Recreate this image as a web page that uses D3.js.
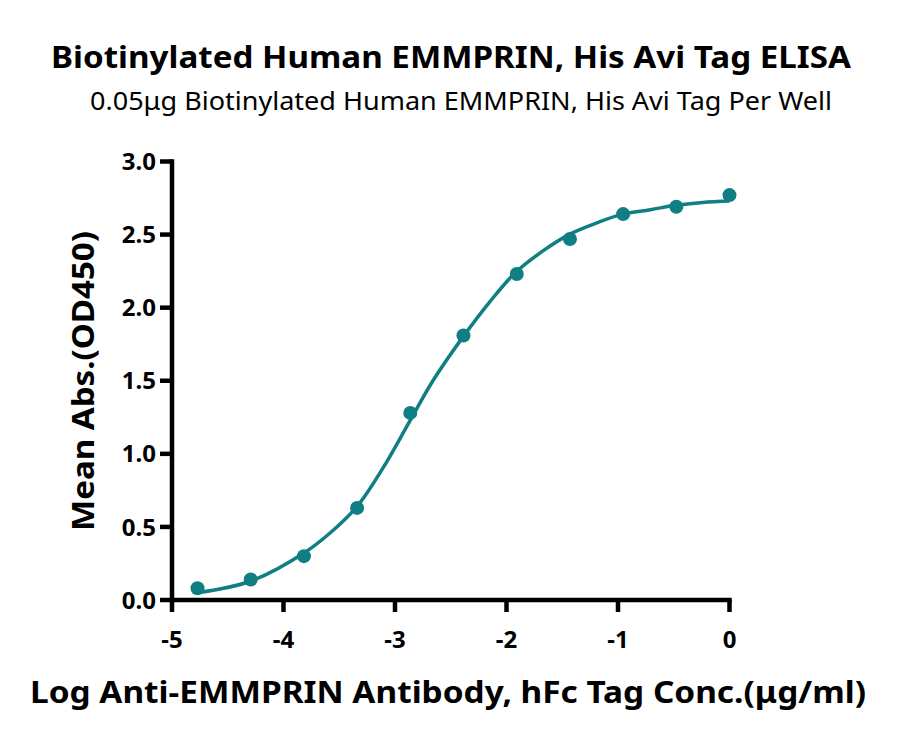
<!doctype html>
<html>
<head>
<meta charset="UTF-8">
<title>EMMPRIN ELISA</title>
<script src="https://d3js.org/d3.v7.min.js"></script>
<style>
  body { margin: 0; background: #fff; }
  svg { display: block; }
  text { font-family: "Noto Sans", "Open Sans", sans-serif; fill: #000; }
</style>
</head>
<body>
<svg id="chart" width="900" height="744"></svg>
<script>
// measured points (log conc, OD450)
var logConc = [-4.771, -4.294, -3.817, -3.340, -2.863, -2.386, -1.908, -1.431, -0.954, -0.477, 0];
var meanAbs = [0.08, 0.14, 0.30, 0.63, 1.28, 1.81, 2.23, 2.47, 2.64, 2.69, 2.77];

// fitted curve
var fitX = [-4.77, -4.29, -3.82, -3.58, -3.34, -3.11, -2.87, -2.66, -2.39, -2.15, -1.92, -1.67, -1.44, -1.19, -0.96, -0.71, -0.49, -0.24, 0];
var fitY = [0.05, 0.13, 0.32, 0.46, 0.64, 0.90, 1.22, 1.50, 1.80, 2.04, 2.24, 2.39, 2.50, 2.58, 2.64, 2.67, 2.70, 2.72, 2.73];

var xTicks = [-5, -4, -3, -2, -1, 0];
var yTicks = [0, 0.5, 1.0, 1.5, 2.0, 2.5, 3.0];

var teal = "#0f7f83";
var axisW = 4.5;
var svg = d3.select("#chart");

var x = d3.scaleLinear().domain([-5, 0]).range([172, 729.5]);
var y = d3.scaleLinear().domain([0, 3]).range([600, 161.5]);

// axis lines
var ax = svg.append("g").attr("stroke", "#000").attr("stroke-width", axisW);
ax.append("line")
    .attr("x1", x(-5) - axisW / 2).attr("x2", x(0) + axisW / 2)
    .attr("y1", y(0)).attr("y2", y(0));
ax.append("line")
    .attr("x1", x(-5)).attr("x2", x(-5))
    .attr("y1", y(3) - axisW / 2).attr("y2", y(0) + axisW / 2);

// ticks
ax.selectAll("line.xt").data(xTicks).enter().append("line")
    .attr("class", "xt")
    .attr("x1", function(d) { return x(d); }).attr("x2", function(d) { return x(d); })
    .attr("y1", y(0)).attr("y2", y(0) + 12);
ax.selectAll("line.yt").data(yTicks).enter().append("line")
    .attr("class", "yt")
    .attr("x1", x(-5) - 12).attr("x2", x(-5))
    .attr("y1", function(d) { return y(d); }).attr("y2", function(d) { return y(d); });

svg.selectAll("text.xl").data(xTicks).enter().append("text")
    .attr("class", "xl")
    .attr("x", function(d) { return x(d); })
    .attr("y", y(0) + 48)
    .attr("text-anchor", "middle")
    .attr("font-size", 24).attr("font-weight", "bold")
    .text(function(d) { return String(d); });

svg.selectAll("text.yl").data(yTicks).enter().append("text")
    .attr("class", "yl")
    .attr("x", x(-5) - 16)
    .attr("y", function(d) { return y(d); })
    .attr("dy", "0.36em")
    .attr("text-anchor", "end")
    .attr("font-size", 24).attr("font-weight", "bold")
    .text(function(d) { return d3.format(".1f")(d); });

// fitted curve
var line = d3.line()
    .x(function(d) { return x(d[0]); })
    .y(function(d) { return y(d[1]); })
    .curve(d3.curveCatmullRom.alpha(0.5));

svg.append("path")
    .datum(fitX.map(function(v, i) { return [v, fitY[i]]; }))
    .attr("fill", "none")
    .attr("stroke", teal)
    .attr("stroke-width", 3.5)
    .attr("d", line);

// points
svg.selectAll("circle.pt")
    .data(logConc.map(function(v, i) { return [v, meanAbs[i]]; }))
    .enter().append("circle")
        .attr("class", "pt")
        .attr("cx", function(d) { return x(d[0]); })
        .attr("cy", function(d) { return y(d[1]); })
        .attr("r", 7)
        .attr("fill", teal);

// titles
svg.append("text")
    .attr("x", 451).attr("y", 68)
    .attr("text-anchor", "middle")
    .attr("font-size", 30).attr("font-weight", "bold")
    .attr("textLength", 800).attr("lengthAdjust", "spacingAndGlyphs")
    .text("Biotinylated Human EMMPRIN, His Avi Tag ELISA");

svg.append("text")
    .attr("x", 461).attr("y", 110)
    .attr("text-anchor", "middle")
    .attr("font-size", 25)
    .attr("textLength", 742).attr("lengthAdjust", "spacingAndGlyphs")
    .text("0.05\u03bcg Biotinylated Human EMMPRIN, His Avi Tag Per Well");

svg.append("text")
    .attr("x", 448).attr("y", 703)
    .attr("text-anchor", "middle")
    .attr("font-size", 30).attr("font-weight", "bold")
    .attr("textLength", 836).attr("lengthAdjust", "spacingAndGlyphs")
    .text("Log Anti-EMMPRIN Antibody, hFc Tag Conc.(\u03bcg/ml)");

svg.append("text")
    .attr("transform", "translate(94,381) rotate(-90)")
    .attr("text-anchor", "middle")
    .attr("font-size", 30).attr("font-weight", "bold")
    .attr("textLength", 300).attr("lengthAdjust", "spacingAndGlyphs")
    .text("Mean Abs.(OD450)");
</script>
</body>
</html>
